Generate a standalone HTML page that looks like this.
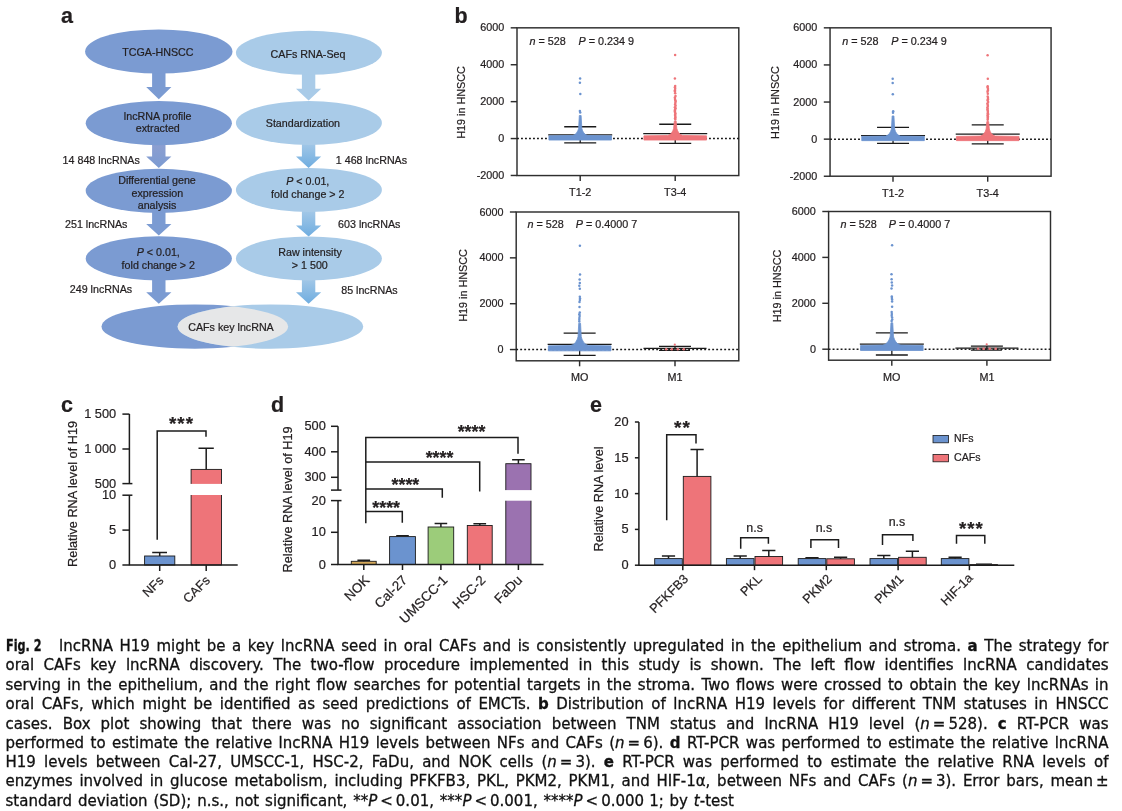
<!DOCTYPE html>
<html lang="en"><head><meta charset="utf-8"><title>Fig. 2</title>
<style>
html,body{margin:0;padding:0;background:#fff;}
body{width:1122px;height:811px;position:relative;overflow:hidden;font-family:"Liberation Sans",sans-serif;}
svg{position:absolute;left:0;top:0;font-family:"Liberation Sans",sans-serif;}
svg text{stroke:#231f20;stroke-width:0.22px;}
.ln{position:absolute;left:5.5px;width:1103px;height:19.27px;line-height:19.27px;font-family:"DejaVu Sans", "Liberation Sans", sans-serif;font-size:15px;color:#111;-webkit-text-stroke:0.3px #111;white-space:nowrap;text-align:justify;text-align-last:justify;}
.ln.last{text-align:left;text-align-last:left;width:auto;}
.ln b.fig{position:absolute;left:0;top:0;font-family:"DejaVu Sans Condensed","DejaVu Sans",sans-serif;font-stretch:condensed;transform:scaleX(0.83);transform-origin:0 0;}
.ln .ts{margin:0 1px;}
.ln.last{word-spacing:1.1px;}
.ln .gap{display:inline-block;width:53.6px;height:10px;}
</style></head><body>
<svg width="1122" height="811" viewBox="0 0 1122 811">
<defs>
<linearGradient id="gl" x1="0" y1="0" x2="0" y2="1"><stop offset="0" stop-color="#8f9fd0"/><stop offset="1" stop-color="#7b9bd2"/></linearGradient>
<linearGradient id="gr" x1="0" y1="0" x2="0" y2="1"><stop offset="0" stop-color="#a9cbe8"/><stop offset="1" stop-color="#6fade0"/></linearGradient>
</defs>
<g id="pa" font-size="10.7" fill="#231f20" text-anchor="middle">
<path d="M152.1 70H165.5V87H171.4L158.8 99.2L146.2 87H152.1Z" fill="#7b9bd2"/>
<path d="M152.1 140H165.5V156.6H171.4L158.8 168.1L146.2 156.6H152.1Z" fill="url(#gl)"/>
<path d="M152.1 208H165.5V224H171.4L158.8 235.6L146.2 224H152.1Z" fill="#7b9bd2"/>
<path d="M152.1 276H165.5V292.2H171.4L158.8 303.8L146.2 292.2H152.1Z" fill="#7b9bd2"/>
<path d="M301.9 70H315.3V88.8H321.2L308.6 100.4L296.0 88.8H301.9Z" fill="#a9cbe8"/>
<path d="M301.9 140H315.3V156.6H321.2L308.6 168L296.0 156.6H301.9Z" fill="url(#gr)"/>
<path d="M301.9 208H315.3V225.4H321.2L308.6 236.5L296.0 225.4H301.9Z" fill="url(#gr)"/>
<path d="M301.9 276H315.3V292.2H321.2L308.6 303.8L296.0 292.2H301.9Z" fill="url(#gr)"/>
<ellipse cx="158.8" cy="51.5" rx="73.7" ry="22.1" fill="#7b9bd2"/>
<ellipse cx="158.8" cy="123.2" rx="73.1" ry="22.1" fill="#7b9bd2"/>
<ellipse cx="158.8" cy="190.8" rx="73.1" ry="22.1" fill="#7b9bd2"/>
<ellipse cx="158.8" cy="258.4" rx="73.1" ry="22.1" fill="#7b9bd2"/>
<ellipse cx="308.9" cy="52.8" rx="73.0" ry="22" fill="#a9cbe8"/>
<ellipse cx="308.9" cy="123.0" rx="73.0" ry="22" fill="#a9cbe8"/>
<ellipse cx="308.9" cy="189.9" rx="73.0" ry="22" fill="#a9cbe8"/>
<ellipse cx="308.9" cy="258.4" rx="73.0" ry="22" fill="#a9cbe8"/>
<ellipse cx="194.8" cy="326.6" rx="93.3" ry="22.2" fill="#7b9bd2"/>
<ellipse cx="270.4" cy="326.6" rx="92.8" ry="22.2" fill="#a9cbe8"/>
<clipPath id="cv"><ellipse cx="194.8" cy="326.6" rx="93.3" ry="22.2"/></clipPath>
<ellipse cx="270.4" cy="326.6" rx="92.8" ry="22.2" fill="#e6e7e8" clip-path="url(#cv)"/>
<text x="157.9" y="55.7">TCGA-HNSCC</text>
<text x="157.7" y="119.7">lncRNA profile</text>
<text x="157.8" y="131.7">extracted</text>
<text x="157.0" y="183.8">Differential gene</text>
<text x="157.3" y="196.8">expression</text>
<text x="157.0" y="209.3">analysis</text>
<text x="158.3" y="255.8"><tspan font-style="italic">P</tspan> &lt; 0.01,</text>
<text x="158.3" y="268.7">fold change &gt; 2</text>
<text x="308.0" y="58.4">CAFs RNA-Seq</text>
<text x="302.9" y="126.7">Standardization</text>
<text x="307.8" y="184.7"><tspan font-style="italic">P</tspan> &lt; 0.01,</text>
<text x="307.8" y="197.6">fold change &gt; 2</text>
<text x="310.0" y="255.8">Raw intensity</text>
<text x="309.8" y="268.7">&gt; 1 500</text>
<text x="231.0" y="331.1">CAFs key lncRNA</text>
<text x="62.6" y="163.6" text-anchor="start">14 848 lncRNAs</text>
<text x="65.0" y="227.6" text-anchor="start">251 lncRNAs</text>
<text x="69.8" y="292.7" text-anchor="start">249 lncRNAs</text>
<text x="335.8" y="163.6" text-anchor="start">1 468 lncRNAs</text>
<text x="338.1" y="227.6" text-anchor="start">603 lncRNAs</text>
<text x="341.2" y="294.0" text-anchor="start">85 lncRNAs</text>
</g>
<g id="pb" font-size="10.8" fill="#231f20">
<rect x="517.0" y="27.83" width="221.80" height="147.73" stroke="#2e2e2e" stroke-width="1.45" fill="none"/>
<path d="M510.7 27.83H517.0" stroke="#2e2e2e" stroke-width="1.45" fill="none"/>
<text x="504.3" y="31.3" text-anchor="end">6000</text>
<path d="M510.7 64.74H517.0" stroke="#2e2e2e" stroke-width="1.45" fill="none"/>
<text x="504.3" y="68.2" text-anchor="end">4000</text>
<path d="M510.7 101.65H517.0" stroke="#2e2e2e" stroke-width="1.45" fill="none"/>
<text x="504.3" y="105.1" text-anchor="end">2000</text>
<path d="M510.7 138.56H517.0" stroke="#2e2e2e" stroke-width="1.45" fill="none"/>
<text x="504.3" y="142.1" text-anchor="end">0</text>
<path d="M510.7 175.47H517.0" stroke="#2e2e2e" stroke-width="1.45" fill="none"/>
<text x="504.3" y="179.0" text-anchor="end">-2000</text>
<path d="M580.2 175.56V181.06" stroke="#2e2e2e" stroke-width="1.45" fill="none"/>
<text x="580.2" y="195.9" text-anchor="middle">T1-2</text>
<path d="M675.2 175.56V181.06" stroke="#2e2e2e" stroke-width="1.45" fill="none"/>
<text x="675.2" y="195.9" text-anchor="middle">T3-4</text>
<path d="M517.0 138.56H738.8" stroke="#1a1a1a" stroke-width="1.5" stroke-dasharray="1.9 2.1" fill="none"/>
<path d="M548.213 134.96H612.213M564.213 126.76H596.213M564.213 142.86H596.213M580.213 126.76V142.86" stroke="#1a1a1a" stroke-width="1.3" fill="none"/>
<path d="M643.23212 133.56H707.23212M659.23212 124.26H691.23212M659.23212 143.36H691.23212M675.23212 124.26V143.36" stroke="#1a1a1a" stroke-width="1.3" fill="none"/>
<g fill="#6b93cf"><path d="M548.913 140.06V135.86L572.713 135.46C576.088 134.66 577.61 131.96 578.61 128.46L579.313 115.49125H581.11L581.813 128.46C582.813 131.96 584.338 134.66 587.713 135.46L611.51 135.86V140.06Z" stroke="#6b93cf" stroke-width="0.8" stroke-linejoin="round"/><circle cx="580.1" cy="78.6" r="1.25"/><circle cx="579.9" cy="82.8" r="1.25"/><circle cx="580.3" cy="93.9" r="1.25"/><circle cx="579.9" cy="110.9" r="1.25"/><circle cx="580.2" cy="112.4" r="1.25"/></g>
<g fill="#ee7479"><path d="M643.93212 140.06V135.86L667.73212 135.46C671.10712 134.66 672.63212 131.96 673.63212 128.46L674.33212 121.02775H676.13212L676.83212 128.46C677.83212 131.96 679.35712 134.66 682.73212 135.46L706.53212 135.86V140.06Z" stroke="#ee7479" stroke-width="0.8" stroke-linejoin="round"/><circle cx="675.1" cy="55.1" r="1.25"/><circle cx="674.9" cy="78.4" r="1.25"/><circle cx="675.2" cy="86.0" r="1.25"/><circle cx="674.9" cy="87.3" r="1.25"/><circle cx="675.2" cy="88.7" r="1.25"/><circle cx="674.9" cy="90.2" r="1.25"/><circle cx="674.9" cy="91.5" r="1.25"/><circle cx="675.2" cy="93.3" r="1.25"/><circle cx="675.5" cy="96.1" r="1.25"/><circle cx="674.9" cy="97.6" r="1.25"/><circle cx="675.0" cy="98.9" r="1.25"/><circle cx="675.3" cy="100.2" r="1.25"/><circle cx="675.6" cy="101.6" r="1.25"/><circle cx="675.3" cy="103.1" r="1.25"/><circle cx="675.1" cy="104.4" r="1.25"/><circle cx="675.6" cy="105.7" r="1.25"/><circle cx="674.9" cy="107.2" r="1.25"/><circle cx="675.5" cy="108.3" r="1.25"/><circle cx="675.1" cy="109.4" r="1.25"/><circle cx="674.9" cy="110.5" r="1.25"/><circle cx="674.9" cy="111.6" r="1.25"/><circle cx="675.1" cy="112.7" r="1.25"/><circle cx="675.5" cy="113.8" r="1.25"/><circle cx="675.0" cy="114.9" r="1.25"/><circle cx="675.3" cy="116.0" r="1.25"/><circle cx="675.3" cy="117.2" r="1.25"/><circle cx="675.1" cy="118.3" r="1.25"/><circle cx="675.3" cy="119.4" r="1.25"/></g>
<text x="529.5" y="44.7"><tspan font-style="italic">n</tspan> = 528</text>
<text x="578.5" y="44.7"><tspan font-style="italic">P</tspan> = 0.234 9</text>
<text transform="translate(465.2,102.5) rotate(-90)" text-anchor="middle">H19 in HNSCC</text>
<rect x="830.05" y="27.83" width="221.02" height="148.37" stroke="#2e2e2e" stroke-width="1.45" fill="none"/>
<path d="M823.8 27.83H830.05" stroke="#2e2e2e" stroke-width="1.45" fill="none"/>
<text x="817.3" y="31.3" text-anchor="end">6000</text>
<path d="M823.8 64.93H830.05" stroke="#2e2e2e" stroke-width="1.45" fill="none"/>
<text x="817.3" y="68.4" text-anchor="end">4000</text>
<path d="M823.8 102.04H830.05" stroke="#2e2e2e" stroke-width="1.45" fill="none"/>
<text x="817.3" y="105.5" text-anchor="end">2000</text>
<path d="M823.8 139.14H830.05" stroke="#2e2e2e" stroke-width="1.45" fill="none"/>
<text x="817.3" y="142.6" text-anchor="end">0</text>
<path d="M823.8 176.24H830.05" stroke="#2e2e2e" stroke-width="1.45" fill="none"/>
<text x="817.3" y="179.7" text-anchor="end">-2000</text>
<path d="M893.0 176.2V181.7" stroke="#2e2e2e" stroke-width="1.45" fill="none"/>
<text x="893.0" y="196.5" text-anchor="middle">T1-2</text>
<path d="M987.7 176.2V181.7" stroke="#2e2e2e" stroke-width="1.45" fill="none"/>
<text x="987.7" y="196.5" text-anchor="middle">T3-4</text>
<path d="M830.05 139.14H1051.07" stroke="#1a1a1a" stroke-width="1.5" stroke-dasharray="1.9 2.1" fill="none"/>
<path d="M861.04 135.54H925.04M877.04 127.34H909.04M877.04 143.44H909.04M893.04 127.34V143.44" stroke="#1a1a1a" stroke-width="1.3" fill="none"/>
<path d="M955.73 134.14H1019.73M971.73 124.84H1003.73M971.73 143.94H1003.73M987.73 124.84V143.94" stroke="#1a1a1a" stroke-width="1.3" fill="none"/>
<g fill="#6b93cf"><path d="M861.7407 140.64V136.44L885.54 136.04C888.92 135.24 890.44 132.54 891.44 129.04L892.14 115.95H893.94L894.64 129.04C895.64 132.54 897.17 135.24 900.54 136.04L924.34 136.44V140.64Z" stroke="#6b93cf" stroke-width="0.8" stroke-linejoin="round"/><circle cx="892.7" cy="78.8" r="1.25"/><circle cx="892.7" cy="83.1" r="1.25"/><circle cx="892.8" cy="94.2" r="1.25"/><circle cx="893.2" cy="111.3" r="1.25"/><circle cx="893.0" cy="112.8" r="1.25"/></g>
<g fill="#ee7479"><path d="M956.43 140.64V136.44L980.23 136.04C983.60 135.24 985.13 132.54 986.13 129.04L986.83 121.52H988.63L989.33 129.04C990.33 132.54 991.85 135.24 995.23 136.04L1019.03 136.44V140.64Z" stroke="#ee7479" stroke-width="0.8" stroke-linejoin="round"/><circle cx="987.6" cy="55.3" r="1.25"/><circle cx="987.8" cy="78.7" r="1.25"/><circle cx="987.7" cy="86.3" r="1.25"/><circle cx="987.6" cy="87.6" r="1.25"/><circle cx="988.0" cy="89.1" r="1.25"/><circle cx="987.9" cy="90.5" r="1.25"/><circle cx="987.5" cy="91.8" r="1.25"/><circle cx="987.8" cy="93.7" r="1.25"/><circle cx="987.7" cy="96.5" r="1.25"/><circle cx="988.0" cy="98.0" r="1.25"/><circle cx="987.9" cy="99.3" r="1.25"/><circle cx="987.6" cy="100.6" r="1.25"/><circle cx="988.1" cy="102.0" r="1.25"/><circle cx="987.4" cy="103.5" r="1.25"/><circle cx="987.7" cy="104.8" r="1.25"/><circle cx="987.9" cy="106.1" r="1.25"/><circle cx="987.4" cy="107.6" r="1.25"/><circle cx="987.7" cy="108.7" r="1.25"/><circle cx="987.4" cy="109.8" r="1.25"/><circle cx="987.9" cy="110.9" r="1.25"/><circle cx="987.9" cy="112.1" r="1.25"/><circle cx="987.8" cy="113.2" r="1.25"/><circle cx="988.0" cy="114.3" r="1.25"/><circle cx="987.6" cy="115.4" r="1.25"/><circle cx="987.9" cy="116.5" r="1.25"/><circle cx="987.8" cy="117.6" r="1.25"/><circle cx="987.8" cy="118.7" r="1.25"/><circle cx="987.7" cy="119.8" r="1.25"/></g>
<text x="842.2" y="44.7"><tspan font-style="italic">n</tspan> = 528</text>
<text x="891.2" y="44.7"><tspan font-style="italic">P</tspan> = 0.234 9</text>
<text transform="translate(779.2,102.6) rotate(-90)" text-anchor="middle">H19 in HNSCC</text>
<rect x="516.2" y="212.0" width="222.60" height="148.80" stroke="#2e2e2e" stroke-width="1.45" fill="none"/>
<path d="M509.9 212.00H516.2" stroke="#2e2e2e" stroke-width="1.45" fill="none"/>
<text x="503.5" y="215.5" text-anchor="end">6000</text>
<path d="M509.9 257.85H516.2" stroke="#2e2e2e" stroke-width="1.45" fill="none"/>
<text x="503.5" y="261.4" text-anchor="end">4000</text>
<path d="M509.9 303.70H516.2" stroke="#2e2e2e" stroke-width="1.45" fill="none"/>
<text x="503.5" y="307.2" text-anchor="end">2000</text>
<path d="M509.9 349.55H516.2" stroke="#2e2e2e" stroke-width="1.45" fill="none"/>
<text x="503.5" y="353.1" text-anchor="end">0</text>
<path d="M579.6 360.8V366.3" stroke="#2e2e2e" stroke-width="1.45" fill="none"/>
<text x="579.6" y="381.1" text-anchor="middle">MO</text>
<path d="M675.0 360.8V366.3" stroke="#2e2e2e" stroke-width="1.45" fill="none"/>
<text x="675.0" y="381.1" text-anchor="middle">M1</text>
<path d="M516.2 349.55H738.8" stroke="#1a1a1a" stroke-width="1.5" stroke-dasharray="1.9 2.1" fill="none"/>
<path d="M547.641 344.45H611.641M563.641 333.15H595.641M563.641 355.35H595.641M579.641 333.15V355.35" stroke="#1a1a1a" stroke-width="1.3" fill="none"/>
<path d="M643.5 348.4H706.5M659.0 346.4H691.0M659.0 350.4H690.0M675.0 346.4V350.4" stroke="#1a1a1a" stroke-width="1.3" fill="none"/>
<g fill="#6b93cf"><path d="M548.341 350.85V345.85L570.641 345.45C574.69 344.65 577.04 340.95 578.04 336.45L578.741 323.19H580.54L581.241 336.45C582.241 340.95 584.591 344.65 588.641 345.45L610.94 345.85V350.85Z" stroke="#6b93cf" stroke-width="0.8" stroke-linejoin="round"/><circle cx="579.9" cy="245.7" r="1.25"/><circle cx="580.0" cy="274.6" r="1.25"/><circle cx="579.6" cy="279.6" r="1.25"/><circle cx="579.8" cy="283.1" r="1.25"/><circle cx="579.3" cy="285.8" r="1.25"/><circle cx="579.8" cy="288.8" r="1.25"/><circle cx="579.8" cy="296.8" r="1.25"/><circle cx="580.0" cy="298.4" r="1.25"/><circle cx="579.9" cy="300.0" r="1.25"/><circle cx="579.5" cy="301.9" r="1.25"/><circle cx="579.5" cy="307.1" r="1.25"/><circle cx="579.8" cy="312.4" r="1.25"/><circle cx="579.3" cy="314.2" r="1.25"/><circle cx="579.6" cy="316.1" r="1.25"/><circle cx="579.4" cy="317.9" r="1.25"/><circle cx="579.3" cy="319.7" r="1.25"/><circle cx="579.3" cy="321.4" r="1.25"/></g>
<g fill="#ee7479"><circle cx="666.2" cy="349.2" r="1.3"/><circle cx="671.8" cy="349.2" r="1.3"/><circle cx="677.8" cy="349.2" r="1.3"/><circle cx="683.8" cy="349.2" r="1.3"/><circle cx="674.8" cy="344.7" r="1.1"/></g>
<text x="527.4" y="227.8"><tspan font-style="italic">n</tspan> = 528</text>
<text x="575.7" y="227.8"><tspan font-style="italic">P</tspan> = 0.4000 7</text>
<text transform="translate(467.0,285.4) rotate(-90)" text-anchor="middle">H19 in HNSCC</text>
<rect x="828.6" y="211.5" width="221.90" height="148.70" stroke="#2e2e2e" stroke-width="1.45" fill="none"/>
<path d="M822.3 211.50H828.6" stroke="#2e2e2e" stroke-width="1.45" fill="none"/>
<text x="815.9" y="215.0" text-anchor="end">6000</text>
<path d="M822.3 257.40H828.6" stroke="#2e2e2e" stroke-width="1.45" fill="none"/>
<text x="815.9" y="260.9" text-anchor="end">4000</text>
<path d="M822.3 303.30H828.6" stroke="#2e2e2e" stroke-width="1.45" fill="none"/>
<text x="815.9" y="306.8" text-anchor="end">2000</text>
<path d="M822.3 349.20H828.6" stroke="#2e2e2e" stroke-width="1.45" fill="none"/>
<text x="815.9" y="352.7" text-anchor="end">0</text>
<path d="M891.8 360.2V365.7" stroke="#2e2e2e" stroke-width="1.45" fill="none"/>
<text x="891.8" y="380.5" text-anchor="middle">MO</text>
<path d="M986.9 360.2V365.7" stroke="#2e2e2e" stroke-width="1.45" fill="none"/>
<text x="986.9" y="380.5" text-anchor="middle">M1</text>
<path d="M828.6 349.2H1050.5" stroke="#1a1a1a" stroke-width="1.5" stroke-dasharray="1.9 2.1" fill="none"/>
<path d="M859.8415 344.10H923.8415M875.8415 332.8H907.8415M875.8415 355.0H907.8415M891.8415 332.8V355.0" stroke="#1a1a1a" stroke-width="1.3" fill="none"/>
<path d="M955.4 348.1H1018.4M970.9 346.1H1002.9M970.9 350.1H1001.9M986.9 346.1V350.1" stroke="#1a1a1a" stroke-width="1.3" fill="none"/>
<g fill="#6b93cf"><path d="M860.5415 350.5V345.50L882.8415 345.10C886.8915 344.30 889.2415 340.60 890.2415 336.10L890.9415 322.8075H892.7415L893.4415 336.10C894.4415 340.60 896.7915 344.30 900.8415 345.10L923.1415 345.50V350.5Z" stroke="#6b93cf" stroke-width="0.8" stroke-linejoin="round"/><circle cx="892.1" cy="245.2" r="1.25"/><circle cx="891.5" cy="274.2" r="1.25"/><circle cx="891.6" cy="279.2" r="1.25"/><circle cx="891.8" cy="282.6" r="1.25"/><circle cx="892.1" cy="285.4" r="1.25"/><circle cx="891.5" cy="288.4" r="1.25"/><circle cx="891.8" cy="296.4" r="1.25"/><circle cx="891.9" cy="298.0" r="1.25"/><circle cx="892.1" cy="299.6" r="1.25"/><circle cx="892.1" cy="301.5" r="1.25"/><circle cx="892.1" cy="306.7" r="1.25"/><circle cx="891.7" cy="312.0" r="1.25"/><circle cx="891.8" cy="313.9" r="1.25"/><circle cx="891.7" cy="315.7" r="1.25"/><circle cx="892.1" cy="317.5" r="1.25"/><circle cx="892.2" cy="319.4" r="1.25"/><circle cx="891.6" cy="321.0" r="1.25"/></g>
<g fill="#ee7479"><circle cx="978.1" cy="348.8" r="1.3"/><circle cx="983.7" cy="348.8" r="1.3"/><circle cx="989.7" cy="348.8" r="1.3"/><circle cx="995.7" cy="348.8" r="1.3"/><circle cx="986.7" cy="344.3" r="1.1"/></g>
<text x="840.5" y="227.8"><tspan font-style="italic">n</tspan> = 528</text>
<text x="888.8" y="227.8"><tspan font-style="italic">P</tspan> = 0.4000 7</text>
<text transform="translate(781.0,286.0) rotate(-90)" text-anchor="middle">H19 in HNSCC</text>
</g>
<g id="pc" font-size="12.8" fill="#231f20" stroke-linecap="butt">
<rect x="144.6" y="556" width="30.2" height="9" fill="#6b93cf" stroke="#1a1a1a" stroke-width="0.9"/>
<rect x="191.1" y="469.4" width="30.4" height="95.6" fill="#ee7479" stroke="#1a1a1a" stroke-width="0.9"/>
<rect x="185" y="483.9" width="45" height="11.1" fill="#fff"/>
<path d="M159.7 556V552.5M152.2 552.5H167" stroke="#1c1c1c" stroke-width="1.5" fill="none"/>
<path d="M206.2 469.4V448.3M198.5 448.3H213.8" stroke="#1c1c1c" stroke-width="1.5" fill="none"/>
<path d="M129.4 414.1V483.6M129.4 495.2V565M128.8 565H237.7" stroke="#1c1c1c" stroke-width="1.5" fill="none"/>
<path d="M122.4 414.1H129.4" stroke="#1c1c1c" stroke-width="1.5" fill="none"/>
<text x="116.2" y="418.20" text-anchor="end">1 500</text>
<path d="M122.4 449H129.4" stroke="#1c1c1c" stroke-width="1.5" fill="none"/>
<text x="116.2" y="453.1" text-anchor="end">1 000</text>
<path d="M122.4 483.6H132.4" stroke="#1c1c1c" stroke-width="1.5" fill="none"/>
<text x="116.2" y="487.70" text-anchor="end">500</text>
<path d="M122.4 495.2H132.4" stroke="#1c1c1c" stroke-width="1.5" fill="none"/>
<text x="116.2" y="499.3" text-anchor="end">10</text>
<path d="M122.4 530.1H129.4" stroke="#1c1c1c" stroke-width="1.5" fill="none"/>
<text x="116.2" y="534.2" text-anchor="end">5</text>
<path d="M122.4 565H129.4" stroke="#1c1c1c" stroke-width="1.5" fill="none"/>
<text x="116.2" y="569.1" text-anchor="end">0</text>
<path d="M159.7 565V571" stroke="#1c1c1c" stroke-width="1.5" fill="none"/>
<path d="M206.2 565V571" stroke="#1c1c1c" stroke-width="1.5" fill="none"/>
<text transform="translate(164.3,581.2) rotate(-45)" text-anchor="end">NFs</text>
<text transform="translate(210.8,581.2) rotate(-45)" text-anchor="end">CAFs</text>
<path d="M157.2 539.8V431.1H206V436.8" stroke="#1c1c1c" stroke-width="1.5" fill="none"/>
<text x="181.5" y="430.1" text-anchor="middle" font-size="18.8" font-weight="bold" letter-spacing="1">***</text>
<text transform="translate(76.5,494) rotate(-90)" text-anchor="middle" font-size="12.7">Relative RNA level of H19</text>
</g>
<g id="pd" font-size="12.8" fill="#231f20">
<rect x="351.3" y="561.3" width="24.9" height="3.2" fill="#d4a85a" stroke="#1a1a1a" stroke-width="0.9"/>
<rect x="389.6" y="536.6" width="25.8" height="27.9" fill="#6b93cf" stroke="#1a1a1a" stroke-width="0.9"/>
<rect x="428.1" y="527" width="25.6" height="37.5" fill="#9ccc7a" stroke="#1a1a1a" stroke-width="0.9"/>
<rect x="467.3" y="525.5" width="24.9" height="39.0" fill="#ee7479" stroke="#1a1a1a" stroke-width="0.9"/>
<rect x="505.8" y="463.7" width="25.2" height="100.8" fill="#9b72b0" stroke="#1a1a1a" stroke-width="0.9"/>
<rect x="500" y="490.1" width="40" height="10.6" fill="#fff"/>
<path d="M363.8 561.3V560.3M357.4 560.3H370.1" stroke="#1c1c1c" stroke-width="1.5" fill="none"/>
<path d="M363.8 564.5V570" stroke="#1c1c1c" stroke-width="1.5" fill="none"/>
<path d="M402.5 536.6V535.7M396.2 535.7H408.8" stroke="#1c1c1c" stroke-width="1.5" fill="none"/>
<path d="M402.5 564.5V570" stroke="#1c1c1c" stroke-width="1.5" fill="none"/>
<path d="M440.9 527V523.5M434.6 523.5H447.2" stroke="#1c1c1c" stroke-width="1.5" fill="none"/>
<path d="M440.9 564.5V570" stroke="#1c1c1c" stroke-width="1.5" fill="none"/>
<path d="M479.8 525.5V523.8M473.4 523.8H486.1" stroke="#1c1c1c" stroke-width="1.5" fill="none"/>
<path d="M479.8 564.5V570" stroke="#1c1c1c" stroke-width="1.5" fill="none"/>
<path d="M518.4 463.7V459.7M512.1 459.7H524.7" stroke="#1c1c1c" stroke-width="1.5" fill="none"/>
<path d="M518.4 564.5V570" stroke="#1c1c1c" stroke-width="1.5" fill="none"/>
<path d="M338 426.3V490.1M338 500.6V564.5M337.4 564.5H543.5" stroke="#1c1c1c" stroke-width="1.5" fill="none"/>
<path d="M331 426.3H338" stroke="#1c1c1c" stroke-width="1.5" fill="none"/>
<text x="325.8" y="430.40" text-anchor="end">500</text>
<path d="M331 451.8H338" stroke="#1c1c1c" stroke-width="1.5" fill="none"/>
<text x="325.8" y="455.90" text-anchor="end">400</text>
<path d="M331 477.3H338" stroke="#1c1c1c" stroke-width="1.5" fill="none"/>
<text x="325.8" y="481.40" text-anchor="end">300</text>
<path d="M331 500.6H341.5" stroke="#1c1c1c" stroke-width="1.5" fill="none"/>
<text x="325.8" y="504.70" text-anchor="end">20</text>
<path d="M331 532.3H338" stroke="#1c1c1c" stroke-width="1.5" fill="none"/>
<text x="325.8" y="536.4" text-anchor="end">10</text>
<path d="M331 564.5H338" stroke="#1c1c1c" stroke-width="1.5" fill="none"/>
<text x="325.8" y="568.6" text-anchor="end">0</text>
<path d="M331 490.1H341.5" stroke="#1c1c1c" stroke-width="1.5" fill="none"/>
<text transform="translate(370.35,581.0) rotate(-45)" text-anchor="end" font-size="13.4">NOK</text>
<text transform="translate(408.0,581.0) rotate(-45)" text-anchor="end" font-size="13.4">Cal-27</text>
<text transform="translate(448.2,581.0) rotate(-45)" text-anchor="end" font-size="13.4">UMSCC-1</text>
<text transform="translate(486.35,581.0) rotate(-45)" text-anchor="end" font-size="13.4">HSC-2</text>
<text transform="translate(522.9,581.0) rotate(-45)" text-anchor="end" font-size="13.4">FaDu</text>
<path d="M365.8 523.3V437.6H518V453.8M365.8 462H479.7V491.5M365.8 489H442.3V497.7M365.8 511.4H402.3V522.7" stroke="#1c1c1c" stroke-width="1.5" fill="none"/>
<text x="386.2" y="513.5" text-anchor="middle" font-size="17.8" font-weight="bold">****</text>
<text x="405.4" y="491" text-anchor="middle" font-size="17.8" font-weight="bold">****</text>
<text x="439.5" y="464" text-anchor="middle" font-size="17.8" font-weight="bold">****</text>
<text x="471.5" y="437.6" text-anchor="middle" font-size="17.8" font-weight="bold">****</text>
<text transform="translate(292.1,499.4) rotate(-90)" text-anchor="middle" font-size="12.7">Relative RNA level of H19</text>
</g>
<g id="pe" font-size="12.8" fill="#231f20">
<rect x="654.7" y="558.6" width="27.6" height="6.6" fill="#6b93cf" stroke="#1a1a1a" stroke-width="0.9"/>
<rect x="683.30" y="476.4" width="27.6" height="88.8" fill="#ee7479" stroke="#1a1a1a" stroke-width="0.9"/>
<path d="M668.5 558.6V555.9M661.9 555.9H675.1" stroke="#1c1c1c" stroke-width="1.5" fill="none"/>
<path d="M697.1 476.4V449.6M690.5 449.6H703.7" stroke="#1c1c1c" stroke-width="1.5" fill="none"/>
<path d="M682.8 565.2V570.2" stroke="#1c1c1c" stroke-width="1.5" fill="none"/>
<text transform="translate(689.00,579.6) rotate(-45)" text-anchor="end">PFKFB3</text>
<rect x="726.4" y="558.6" width="27.6" height="6.6" fill="#6b93cf" stroke="#1a1a1a" stroke-width="0.9"/>
<rect x="755.0" y="556.5" width="27.6" height="8.7" fill="#ee7479" stroke="#1a1a1a" stroke-width="0.9"/>
<path d="M740.2 558.6V555.9M733.6 555.9H746.8" stroke="#1c1c1c" stroke-width="1.5" fill="none"/>
<path d="M768.8 556.5V550.4M762.2 550.4H775.4" stroke="#1c1c1c" stroke-width="1.5" fill="none"/>
<path d="M754.5 565.2V570.2" stroke="#1c1c1c" stroke-width="1.5" fill="none"/>
<text transform="translate(762.7,579.6) rotate(-45)" text-anchor="end">PKL</text>
<rect x="798.2" y="558.6" width="27.6" height="6.6" fill="#6b93cf" stroke="#1a1a1a" stroke-width="0.9"/>
<rect x="826.80" y="558.8" width="27.6" height="6.4" fill="#ee7479" stroke="#1a1a1a" stroke-width="0.9"/>
<path d="M812.0 558.6V557.8M805.4 557.8H818.6" stroke="#1c1c1c" stroke-width="1.5" fill="none"/>
<path d="M840.6 558.8V557.3M834.0 557.3H847.2" stroke="#1c1c1c" stroke-width="1.5" fill="none"/>
<path d="M826.3 565.2V570.2" stroke="#1c1c1c" stroke-width="1.5" fill="none"/>
<text transform="translate(832.50,579.6) rotate(-45)" text-anchor="end">PKM2</text>
<rect x="870.0" y="558.6" width="27.6" height="6.6" fill="#6b93cf" stroke="#1a1a1a" stroke-width="0.9"/>
<rect x="898.6" y="557.3" width="27.6" height="7.9" fill="#ee7479" stroke="#1a1a1a" stroke-width="0.9"/>
<path d="M883.8 558.6V555.6M877.2 555.6H890.4" stroke="#1c1c1c" stroke-width="1.5" fill="none"/>
<path d="M912.4 557.3V551.2M905.8 551.2H919.0" stroke="#1c1c1c" stroke-width="1.5" fill="none"/>
<path d="M898.1 565.2V570.2" stroke="#1c1c1c" stroke-width="1.5" fill="none"/>
<text transform="translate(904.30,579.6) rotate(-45)" text-anchor="end">PKM1</text>
<rect x="941.3" y="558.6" width="27.6" height="6.6" fill="#6b93cf" stroke="#1a1a1a" stroke-width="0.9"/>
<rect x="969.9" y="564.6" width="27.6" height="0.6" fill="#ee7479" stroke="#1a1a1a" stroke-width="0.9"/>
<path d="M955.1 558.6V557.2M948.5 557.2H961.7" stroke="#1c1c1c" stroke-width="1.5" fill="none"/>
<path d="M969.4 565.2V570.2" stroke="#1c1c1c" stroke-width="1.5" fill="none"/>
<text transform="translate(973.6,578.6) rotate(-45)" text-anchor="end">HIF-1a</text>
<path d="M976 563.90H992" stroke="#1c1c1c" stroke-width="0.9"/>
<path d="M638.9 422.0V565.2M638.20 565.2H1014.3" stroke="#1c1c1c" stroke-width="1.5" fill="none"/>
<path d="M634.9 565.2H638.9" stroke="#1c1c1c" stroke-width="1.5" fill="none"/>
<text x="628.5" y="569.1" text-anchor="end">0</text>
<path d="M634.9 529.4H638.9" stroke="#1c1c1c" stroke-width="1.5" fill="none"/>
<text x="628.5" y="533.3" text-anchor="end">5</text>
<path d="M634.9 493.6H638.9" stroke="#1c1c1c" stroke-width="1.5" fill="none"/>
<text x="628.5" y="497.5" text-anchor="end">10</text>
<path d="M634.9 457.8H638.9" stroke="#1c1c1c" stroke-width="1.5" fill="none"/>
<text x="628.5" y="461.7" text-anchor="end">15</text>
<path d="M634.9 422.0H638.9" stroke="#1c1c1c" stroke-width="1.5" fill="none"/>
<text x="628.5" y="425.9" text-anchor="end">20</text>
<path d="M666.7 520.2V434.7H696V443.4" stroke="#1c1c1c" stroke-width="1.5" fill="none"/>
<path d="M740.7 548.7V537.8H768.4V543.8" stroke="#1c1c1c" stroke-width="1.5" fill="none"/>
<path d="M810.9 547.9V539.7H838.5V547.9" stroke="#1c1c1c" stroke-width="1.5" fill="none"/>
<path d="M882.5 545.1V534.8H912.9V541.1" stroke="#1c1c1c" stroke-width="1.5" fill="none"/>
<path d="M956.5 543.8V535.6H984.8V543.8" stroke="#1c1c1c" stroke-width="1.5" fill="none"/>
<text x="682.5" y="433.8" text-anchor="middle" font-size="19" font-weight="bold" letter-spacing="1">**</text>
<text x="971.4" y="535.4" text-anchor="middle" font-size="18.6" font-weight="bold" letter-spacing="1.1">***</text>
<text x="754.6" y="532.1" text-anchor="middle" font-size="12.4">n.s</text>
<text x="823.9" y="532.1" text-anchor="middle" font-size="12.4">n.s</text>
<text x="896.9" y="526.2" text-anchor="middle" font-size="12.4">n.s</text>
<rect x="933" y="435.4" width="15.6" height="7.4" fill="#6b93cf" stroke="#1a1a1a" stroke-width="0.8"/>
<rect x="933" y="454.4" width="15.6" height="7.4" fill="#ee7479" stroke="#1a1a1a" stroke-width="0.8"/>
<text x="954.1" y="441.7" font-size="10.6">NFs</text>
<text x="954.1" y="460.7" font-size="10.6">CAFs</text>
<text transform="translate(602.5,499) rotate(-90)" text-anchor="middle" font-size="12.7">Relative RNA level</text>
</g>
<g font-size="21.5" font-weight="bold" fill="#231f20">
<text x="61" y="23">a</text>
<text x="454.4" y="23">b</text>
<text x="61" y="411.6">c</text>
<text x="271" y="411.8">d</text>
<text x="590" y="411.6">e</text>
</g>
</svg>
<div class="ln" id="l0" style="top:637.10px;"><span class="gap"><b class="fig">Fig. 2</b></span>lncRNA H19 might be a key lncRNA seed in oral CAFs and is consistently upregulated in the epithelium and stroma. <b>a</b> The strategy for</div>
<div class="ln" id="l1" style="top:656.10px;">oral CAFs key lncRNA discovery. The two-flow procedure implemented in this study is shown. The left flow identifies lncRNA candidates</div>
<div class="ln" id="l2" style="top:676.10px;">serving in the epithelium, and the right flow searches for potential targets in the stroma. Two flows were crossed to obtain the key lncRNAs in</div>
<div class="ln" id="l3" style="top:695.10px;">oral CAFs, which might be identified as seed predictions of EMCTs. <b>b</b> Distribution of lncRNA H19 levels for different TNM statuses in HNSCC</div>
<div class="ln" id="l4" style="top:715.10px;">cases. Box plot showing that there was no significant association between TNM status and lncRNA H19 level (<i>n</i>&thinsp;=&thinsp;528). <b>c</b> RT-PCR was</div>
<div class="ln" id="l5" style="top:734.10px;">performed to estimate the relative lncRNA H19 levels between NFs and CAFs (<i>n</i>&thinsp;=&thinsp;6). <b>d</b> RT-PCR was performed to estimate the relative lncRNA</div>
<div class="ln" id="l6" style="top:753.10px;">H19 levels between Cal-27, UMSCC-1, HSC-2, FaDu, and NOK cells (<i>n</i>&thinsp;=&thinsp;3). <b>e</b> RT-PCR was performed to estimate the relative RNA levels of</div>
<div class="ln" id="l7" style="top:772.10px;">enzymes involved in glucose metabolism, including PFKFB3, PKL, PKM2, PKM1, and HIF-1α, between NFs and CAFs (<i>n</i>&thinsp;=&thinsp;3). Error bars, mean&thinsp;±</div>
<div class="ln last" id="l8" style="top:792.10px;">standard deviation (SD); n.s., not significant, **<i>P</i>&thinsp;&lt;&thinsp;0.01, ***<i>P</i>&thinsp;&lt;&thinsp;0.001, ****<i>P</i>&thinsp;&lt;&thinsp;0.000<span class="ts">&thinsp;</span>1; by <i>t</i>-test</div>
</body></html>
